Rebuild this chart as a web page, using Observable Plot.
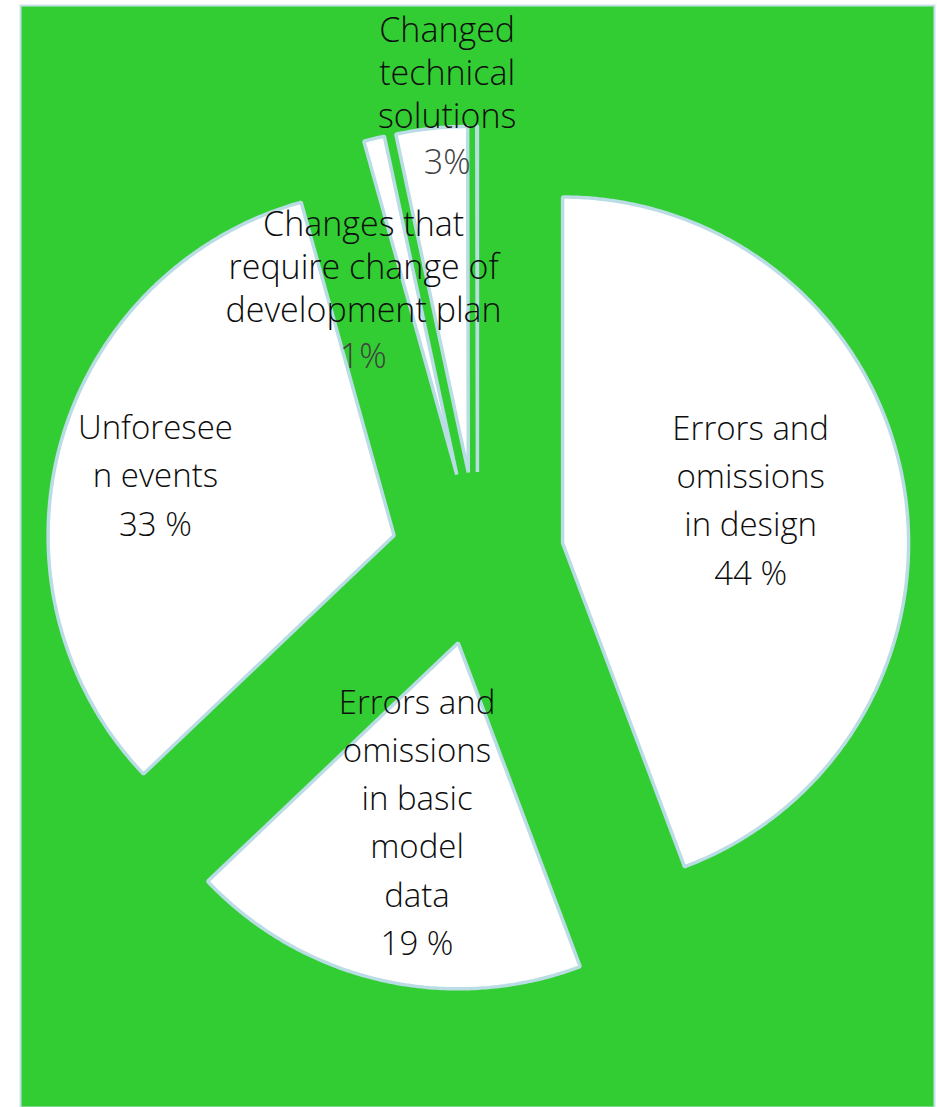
<!DOCTYPE html>
<html>
<head>
<meta charset="utf-8">
<script src="https://cdn.jsdelivr.net/npm/d3@7"></script>
<script src="https://cdn.jsdelivr.net/npm/@observablehq/plot@0.6"></script>
<style>
  html, body { margin: 0; padding: 0; background: #ffffff; }
  #chart { width: 937px; height: 1107px; }
</style>
</head>
<body>
<div id="chart"></div>
<script>
// ---- data ----
const categories = [
  "Errors and omissions in design",
  "Errors and omissions in basic model data",
  "Unforeseen events",
  "Changes that require change of development plan",
  "Changed technical solutions",
  "Other"
];
const shares = [44.27, 18.63, 32.78, 0.97, 3.33, 0.03];
const nameLabels = [
  "Errors and\nomissions\nin design",
  "Errors and\nomissions\nin basic\nmodel\ndata",
  "Unforesee\nn events",
  "Changes that\nrequire change of\ndevelopment plan",
  "Changed\ntechnical\nsolutions",
  ""
];
const pctLabels = ["44 %", "19 %", "33 %", "1%", "3%", ""];

// ---- layout (label placement relative to each exploded slice: [radius, angle shift in deg]) ----
const explode = 0.25;
const inside = [true, true, true, false, false, false];
const namePlace = [[0.557, -2.3], [0.534, 0], [0.711, -1.4], [0.651, -10.6], [1.149, 3.05], [0, 0]];
const pctPlace  = [[0, 0], [0, 0], [0, 0], [0.433, -24.8], [0.895, 2.2], [0, 0]];

const dir = a => { const t = a * Math.PI / 180; return [Math.sin(t), Math.cos(t)]; };
const total = d3.sum(shares);

const polyPts = [];
const mainLabels = [];
const outerNames = [];
const outerPcts = [];
let start = 0;
shares.forEach((v, i) => {
  const span = v / total * 360;
  const end = start + span;
  const mid = (start + end) / 2;
  const [mx, my] = dir(mid);
  const ax = explode * mx, ay = explode * my;
  polyPts.push({slice: categories[i], x: ax, y: ay});
  const n = Math.max(2, Math.ceil(span / 0.5));
  for (let k = 0; k <= n; k++) {
    const a = start + span * k / n;
    const [dx, dy] = dir(a);
    polyPts.push({slice: categories[i], x: ax + dx, y: ay + dy});
  }
  if (nameLabels[i]) {
    const [r, s] = namePlace[i];
    const [lx, ly] = dir(mid + s);
    if (inside[i]) {
      mainLabels.push({x: ax + r * lx, y: ay + r * ly, text: nameLabels[i] + "\n" + pctLabels[i]});
    } else {
      outerNames.push({x: ax + r * lx, y: ay + r * ly, text: nameLabels[i]});
      const [pr, ps] = pctPlace[i];
      const [px, py] = dir(mid + ps);
      outerPcts.push({x: ax + pr * px, y: ay + pr * py, text: pctLabels[i]});
    }
  }
  start = end;
});

const font = "'Open Sans', 'Noto Sans', sans-serif";
const chart = Plot.plot({
  width: 937,
  height: 1107,
  marginLeft: 20,
  marginRight: 3,
  marginTop: 5,
  marginBottom: 0,
  x: {domain: [-1.3208, 1.3208], axis: null},
  y: {domain: [-1.5867, 1.5983], axis: null},
  style: {background: "transparent", fontFamily: font},
  marks: [
    Plot.frame({fill: "#32cd32", stroke: "#c3e1e8", strokeWidth: 2}),
    Plot.line(polyPts, {
      x: "x", y: "y", z: "slice",
      curve: "linear-closed",
      fill: "#ffffff",
      stroke: "#b9dce5",
      strokeWidth: 3.5,
      strokeLinejoin: "miter"
    }),
    Plot.text(mainLabels, {
      x: "x", y: "y", text: "text", dy: -4,
      fontSize: 33, lineHeight: 1.46, fontWeight: 300,
      fill: "#0d0d0d", fontFamily: font
    }),
    Plot.text(outerNames, {
      x: "x", y: "y", text: "text", dy: -4,
      fontSize: 34, lineHeight: 1.27, fontWeight: 300,
      fill: "#0d0d0d", fontFamily: font
    }),
    Plot.text(outerPcts, {
      x: "x", y: "y", text: "text",
      fontSize: 34, fontWeight: 300,
      fill: "#404040", fontFamily: font
    })
  ]
});
document.getElementById("chart").appendChild(chart);
</script>
</body>
</html>
